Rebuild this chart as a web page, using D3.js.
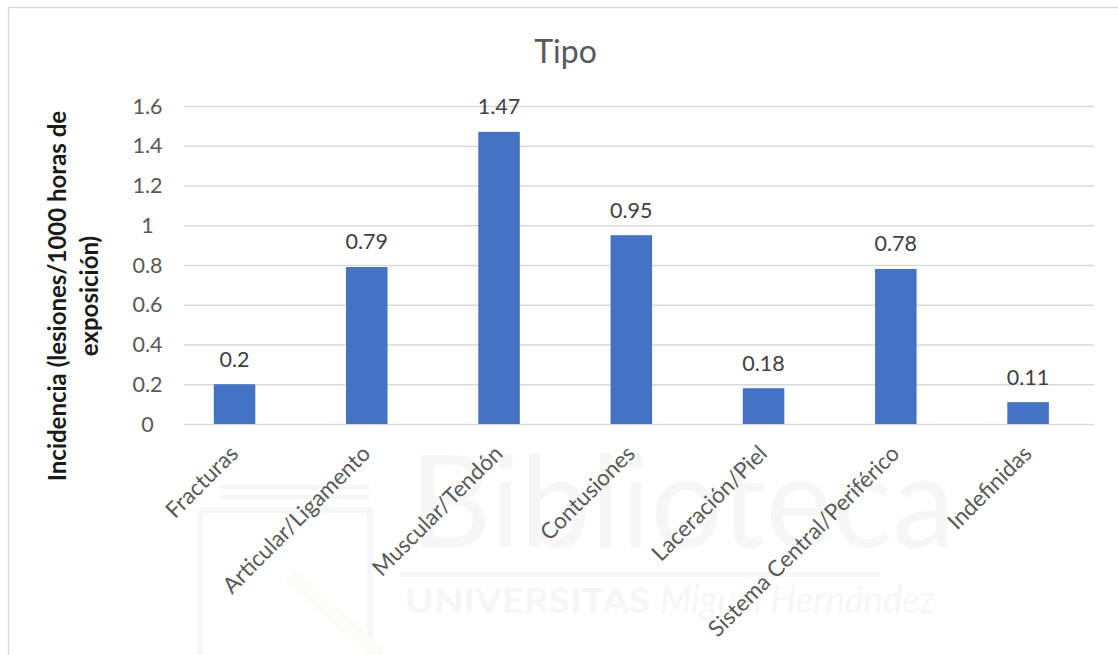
<!DOCTYPE html>
<html>
<head>
<meta charset="utf-8">
<script src="https://cdn.jsdelivr.net/npm/d3@7/dist/d3.min.js"></script>
<style>
  html, body { margin: 0; padding: 0; background: #fff; }
  svg { display: block; }
  text { font-family: Lato, "Open Sans", sans-serif; }
</style>
</head>
<body>
<svg id="chart" width="1118" height="655"></svg>
<script>
const categories = ["Fracturas", "Articular/Ligamento", "Muscular/Tendón", "Contusiones", "Laceración/Piel", "Sistema Central/Periférico", "Indefinidas"];
const values = [0.2, 0.79, 1.47, 0.95, 0.18, 0.78, 0.11];
const valueLabels = ["0.2", "0.79", "1.47", "0.95", "0.18", "0.78", "0.11"];
const yTicks = [0, 0.2, 0.4, 0.6, 0.8, 1, 1.2, 1.4, 1.6];
const yTickLabels = ["0", "0.2", "0.4", "0.6", "0.8", "1", "1.2", "1.4", "1.6"];
const title = "Tipo";
const yTitleLines = ["Incidencia (lesiones/1000 horas de", "exposición)"];
const watermark = ["Biblioteca", "UNIVERSITAS", "Miguel Hernández"];

const svg = d3.select("#chart");

// chart border
svg.append("rect").attr("x", 8.5).attr("y", 7.5).attr("width", 1130).attr("height", 700)
  .attr("fill", "#fff").attr("stroke", "#d9d9d9").attr("stroke-width", 1.5);

// faint watermark
const wm = svg.append("g").attr("fill", "#f6f6f6").attr("stroke", "none");
wm.append("text").attr("x", 410).attr("y", 547).attr("font-size", 128).attr("textLength", 545)
  .attr("lengthAdjust", "spacingAndGlyphs").text(watermark[0]);
wm.append("rect").attr("x", 400).attr("y", 572).attr("width", 480).attr("height", 5);
wm.append("text").attr("x", 405).attr("y", 613).attr("font-size", 34).attr("font-weight", 700)
  .attr("textLength", 245).attr("lengthAdjust", "spacingAndGlyphs").text(watermark[1]);
wm.append("text").attr("x", 660).attr("y", 613).attr("font-size", 38).attr("font-style", "italic")
  .attr("textLength", 275).attr("lengthAdjust", "spacingAndGlyphs").text(watermark[2]);
const logo = svg.append("g").attr("fill", "none").attr("stroke", "#f6f6f6").attr("stroke-width", 6);
logo.append("path").attr("d", "M200,510 L200,655 M200,510 L370,510 L370,655");
logo.append("path").attr("d", "M220,487 L370,487 M220,497 L370,497").attr("stroke-width", 4);
logo.append("path").attr("d", "M290,575 L380,655").attr("stroke", "#fdfbf5").attr("stroke-width", 14);

// scales
const x = d3.scaleBand().domain(categories).range([168.4, 1094.2]).paddingInner(0.686).paddingOuter(0.343);
const y = d3.scaleLinear().domain([0, 1.6]).range([424, 106]);

// gridlines
svg.append("g").selectAll("line").data(yTicks).join("line")
  .attr("x1", 184).attr("x2", 1094)
  .attr("y1", d => y(d) + 0.5).attr("y2", d => y(d) + 0.5)
  .attr("stroke", "#d9d9d9").attr("stroke-width", 1.5);

// y tick labels
svg.append("g").selectAll("text").data(yTicks).join("text")
  .attr("x", 147.5).attr("y", d => y(d)).attr("dy", "0.36em")
  .attr("text-anchor", "middle").attr("font-size", 21.5).attr("fill", "#595959")
  .text((d, i) => yTickLabels[i]);

// bars
svg.append("g").selectAll("rect").data(values).join("rect")
  .attr("x", (d, i) => x(categories[i])).attr("width", x.bandwidth())
  .attr("y", d => y(d)).attr("height", d => y(0) - y(d))
  .attr("fill", "#4472c4");

// data labels
svg.append("g").selectAll("text").data(values).join("text")
  .attr("x", (d, i) => x(categories[i]) + x.bandwidth() / 2)
  .attr("y", d => y(d) - 17.5)
  .attr("text-anchor", "middle").attr("font-size", 21.5).attr("fill", "#404040")
  .text((d, i) => valueLabels[i]);

// x labels
svg.append("g").selectAll("text").data(categories).join("text")
  .attr("transform", d => `translate(${x(d) + x.bandwidth() / 2 + 5},${455}) rotate(-45)`)
  .attr("text-anchor", "end").attr("font-size", 22.5).attr("fill", "#595959")
  .text(d => d);

// title
svg.append("text").attr("x", 565.5).attr("y", 63).attr("text-anchor", "middle")
  .attr("font-size", 32).attr("fill", "#595959").text(title);

// y axis title
const yt = svg.append("text").attr("transform", "translate(66,296) rotate(-90)")
  .attr("text-anchor", "middle").attr("font-size", 24).attr("font-weight", 700).attr("fill", "#1a1a1a");
yTitleLines.forEach((l, i) => {
  yt.append("tspan").attr("x", 0).attr("y", i * 32).text(l);
});
</script>
</body>
</html>
